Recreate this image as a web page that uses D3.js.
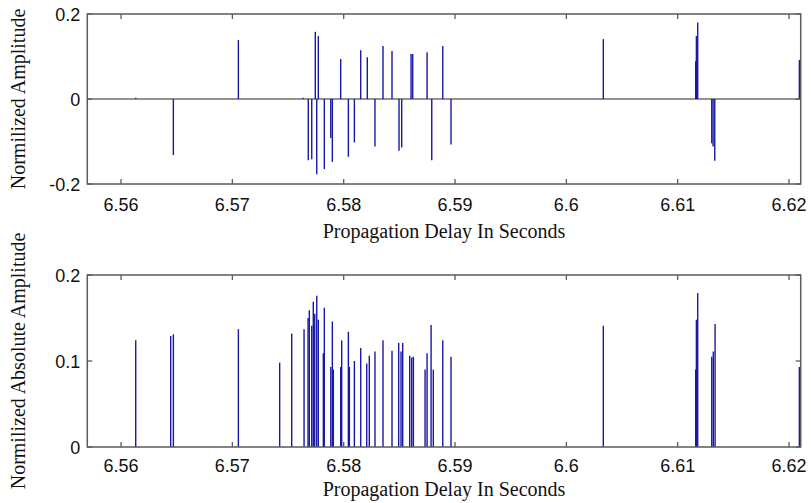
<!DOCTYPE html>
<html>
<head>
<meta charset="utf-8">
<script src="https://cdn.jsdelivr.net/npm/d3@7"></script>
<style>
    body { margin: 0; background: #fff; }
    svg text { fill: #111; }
</style>
</head>
<body>
<div id="chart"></div>
<script>
// propagation delays (s) and normalized amplitude, top panel
const topDelays = [6.56132, 6.56470, 6.57054, 6.57635, 6.57682, 6.57713, 6.57745, 6.57758, 6.57772, 6.57826,
    6.57884, 6.57898, 6.57973, 6.58042, 6.58096, 6.58153, 6.58212, 6.58281, 6.58353, 6.58434,
    6.58497, 6.58521, 6.58605, 6.58620, 6.58749, 6.58791, 6.58890, 6.58964, 6.60332, 6.61162,
    6.61168, 6.61180, 6.61306, 6.61318, 6.61333, 6.62093];
const topAmps = [0.003, -0.132, 0.139, 0.003, -0.144, -0.142, 0.158, -0.177, 0.148, -0.165,
    -0.092, -0.148, 0.094, -0.136, -0.102, 0.115, 0.098, -0.112, 0.125, 0.113,
    -0.122, -0.114, 0.106, 0.106, 0.110, -0.144, 0.125, -0.107, 0.141, 0.089,
    0.148, 0.180, -0.104, -0.112, -0.145, 0.092];

// bottom panel: absolute amplitude
const bottomDelays = [6.56132, 6.56446, 6.56470, 6.57054, 6.57425, 6.57533, 6.57644, 6.57680, 6.57691, 6.57713,
    6.57727, 6.57740, 6.57758, 6.57772, 6.57817, 6.57826, 6.57884, 6.57898, 6.57907, 6.57973,
    6.57982, 6.58042, 6.58051, 6.58096, 6.58153, 6.58207, 6.58230, 6.58281, 6.58353, 6.58434,
    6.58494, 6.58515, 6.58530, 6.58593, 6.58611, 6.58626, 6.58731, 6.58749, 6.58785, 6.58805,
    6.58890, 6.58964, 6.60332, 6.61162, 6.61168, 6.61180, 6.61306, 6.61320, 6.61336, 6.62093];
const bottomAmps = [0.124, 0.129, 0.131, 0.137, 0.098, 0.132, 0.137, 0.150, 0.159, 0.141,
    0.169, 0.155, 0.176, 0.148, 0.109, 0.162, 0.093, 0.146, 0.090, 0.093,
    0.124, 0.134, 0.093, 0.100, 0.115, 0.097, 0.106, 0.111, 0.124, 0.112,
    0.121, 0.111, 0.121, 0.106, 0.104, 0.105, 0.090, 0.109, 0.142, 0.090,
    0.124, 0.105, 0.141, 0.090, 0.148, 0.179, 0.105, 0.111, 0.143, 0.093];

const xDomain = [6.55697, 6.62105];
const xTicks = [6.56, 6.57, 6.58, 6.59, 6.60, 6.61, 6.62];
const topYTicks = [-0.2, 0, 0.2];
const bottomYTicks = [0, 0.1, 0.2];

// matlab style labels: plain hyphen for minus
const fmt = t => String(+t.toFixed(2));

class StemVis {
    constructor(_svg, _opts) {
        this.svg = _svg;
        this.opts = _opts;
        this.initVis();
    }

    initVis() {
        let vis = this;
        let o = vis.opts;

        vis.x = d3.scaleLinear().domain(xDomain).range([o.left, o.right]);
        vis.y = d3.scaleLinear().domain(o.yDomain).range([o.bottom, o.top]);

        vis.g = vis.svg.append("g");

        // zero line (top panel only)
        if (o.zeroLine) {
            vis.g.append("line")
                .attr("x1", o.left).attr("x2", o.right)
                .attr("y1", vis.y(0)).attr("y2", vis.y(0))
                .style("stroke", "#6e6e6e")
                .style("stroke-width", 1.4);
        }

        vis.updateVis();
    }

    updateVis() {
        let vis = this;
        let o = vis.opts;
        let data = o.delays.map((d, i) => ({t: d, a: o.amps[i]}));

        // stems
        vis.g.selectAll(".stem")
            .data(data)
            .enter().append("line")
            .attr("class", "stem")
            .attr("x1", d => vis.x(d.t))
            .attr("x2", d => vis.x(d.t))
            .attr("y1", vis.y(0))
            .attr("y2", d => vis.y(d.a))
            .style("stroke", "#1818a8")
            .style("stroke-width", 1.4);

        // box
        vis.g.append("rect")
            .attr("x", o.left).attr("y", o.top)
            .attr("width", o.right - o.left)
            .attr("height", o.bottom - o.top)
            .style("fill", "none")
            .style("stroke", "#5a5a5a")
            .style("stroke-width", 1.5);

        // x ticks, inward on both sides
        xTicks.forEach(function(t) {
            let px = vis.x(t);
            vis.g.append("line")
                .attr("x1", px).attr("x2", px).attr("y1", o.bottom).attr("y2", o.bottom - 5)
                .style("stroke", "#5a5a5a").style("stroke-width", 1.3);
            vis.g.append("line")
                .attr("x1", px).attr("x2", px).attr("y1", o.top).attr("y2", o.top + 5)
                .style("stroke", "#5a5a5a").style("stroke-width", 1.3);
            vis.g.append("text")
                .attr("x", px)
                .attr("y", o.bottom + o.tickGap)
                .attr("text-anchor", "middle")
                .style("font-family", "Liberation Sans, Arial, sans-serif")
                .style("font-size", "18px")
                .text(fmt(t));
        });

        // y ticks
        o.yTicks.forEach(function(t) {
            let py = vis.y(t);
            vis.g.append("line")
                .attr("x1", o.left).attr("x2", o.left + 5).attr("y1", py).attr("y2", py)
                .style("stroke", "#5a5a5a").style("stroke-width", 1.3);
            vis.g.append("line")
                .attr("x1", o.right).attr("x2", o.right - 5).attr("y1", py).attr("y2", py)
                .style("stroke", "#5a5a5a").style("stroke-width", 1.3);
            vis.g.append("text")
                .attr("x", o.left - 7)
                .attr("y", py + 6.5)
                .attr("text-anchor", "end")
                .style("font-family", "Liberation Sans, Arial, sans-serif")
                .style("font-size", "18px")
                .text(fmt(t));
        });

        // axis labels
        vis.g.append("text")
            .attr("x", (o.left + o.right) / 2)
            .attr("y", o.bottom + o.labelGap)
            .attr("text-anchor", "middle")
            .style("font-family", "Liberation Serif, Times New Roman, serif")
            .style("font-size", "20px")
            .text("Propagation Delay In Seconds");

        vis.g.append("text")
            .attr("transform", "translate(25," + ((o.top + o.bottom) / 2) + ") rotate(-90)")
            .attr("text-anchor", "middle")
            .style("font-family", "Liberation Serif, Times New Roman, serif")
            .style("font-size", "20px")
            .text(o.yLabel);
    }
}

let svg = d3.select("#chart").append("svg")
    .attr("width", 811)
    .attr("height", 503);

new StemVis(svg, {
    left: 87.3, right: 800.7, top: 14, bottom: 184,
    yDomain: [-0.2, 0.2], yTicks: topYTicks, zeroLine: true,
    delays: topDelays, amps: topAmps,
    tickGap: 27, labelGap: 54,
    yLabel: "Normilized Amplitude"
});

new StemVis(svg, {
    left: 87.3, right: 800.7, top: 275, bottom: 447,
    yDomain: [0, 0.2], yTicks: bottomYTicks, zeroLine: false,
    delays: bottomDelays, amps: bottomAmps,
    tickGap: 25, labelGap: 49,
    yLabel: "Normilized Absolute Amplitude"
});
</script>
</body>
</html>
